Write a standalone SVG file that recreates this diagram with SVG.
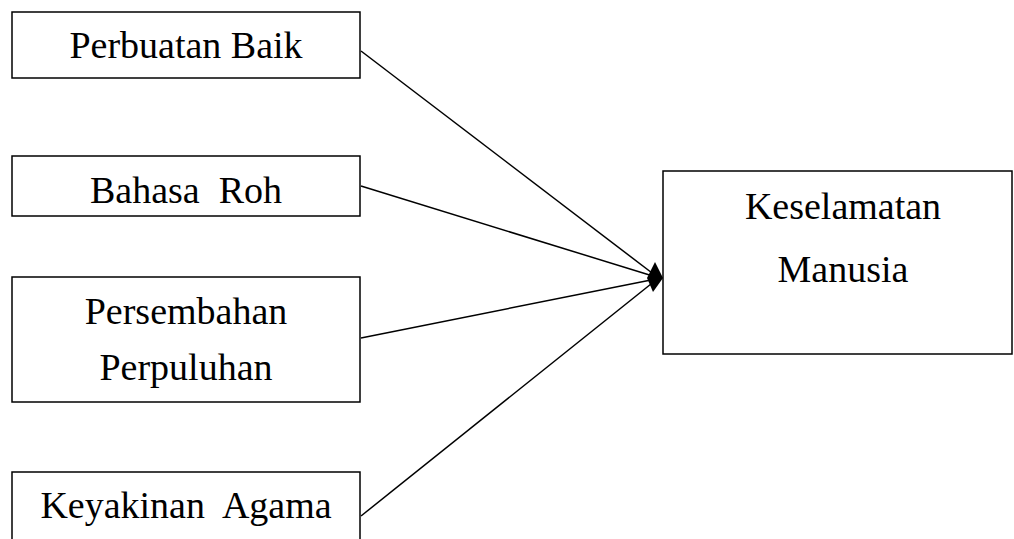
<svg xmlns="http://www.w3.org/2000/svg" width="1014" height="539" viewBox="0 0 1014 539">
<style>
.box{fill:#fff;stroke:#000;stroke-width:1.5}
.lbl{font-family:"Liberation Serif","Times New Roman",serif;font-size:38px;fill:#000;text-anchor:middle;white-space:pre}
.edge{stroke:#000;stroke-width:1.5;fill:none}
</style>
<rect width="1014" height="539" fill="#fff"/>
<g id="connectors">
<line class="edge" x1="361" y1="51" x2="656" y2="276"/>
<line class="edge" x1="361" y1="186" x2="656" y2="277"/>
<line class="edge" x1="361" y1="338" x2="656" y2="279"/>
<line class="edge" x1="361" y1="516" x2="656" y2="280"/>
<polygon points="655,262 663,278 653,292 647,278" fill="#000"/>
</g>
<g id="n-perbuatan">
<rect class="box" x="12" y="12" width="348" height="66"/>
<text class="lbl" x="186" y="58">Perbuatan Baik</text>
</g>
<g id="n-bahasa">
<rect class="box" x="12" y="156" width="348" height="60"/>
<text class="lbl" x="186" y="203" xml:space="preserve">Bahasa  Roh</text>
</g>
<g id="n-persembahan">
<rect class="box" x="12" y="277" width="348" height="125"/>
<text class="lbl" x="186" y="324">Persembahan</text>
<text class="lbl" x="186" y="380">Perpuluhan</text>
</g>
<g id="n-keyakinan">
<rect class="box" x="12" y="472" width="348" height="80"/>
<text class="lbl" x="186" y="518" xml:space="preserve">Keyakinan  Agama</text>
</g>
<g id="n-keselamatan">
<rect class="box" x="663" y="171" width="349" height="183"/>
<text class="lbl" x="843" y="219">Keselamatan</text>
<text class="lbl" x="843" y="282">Manusia</text>
</g>
</svg>
